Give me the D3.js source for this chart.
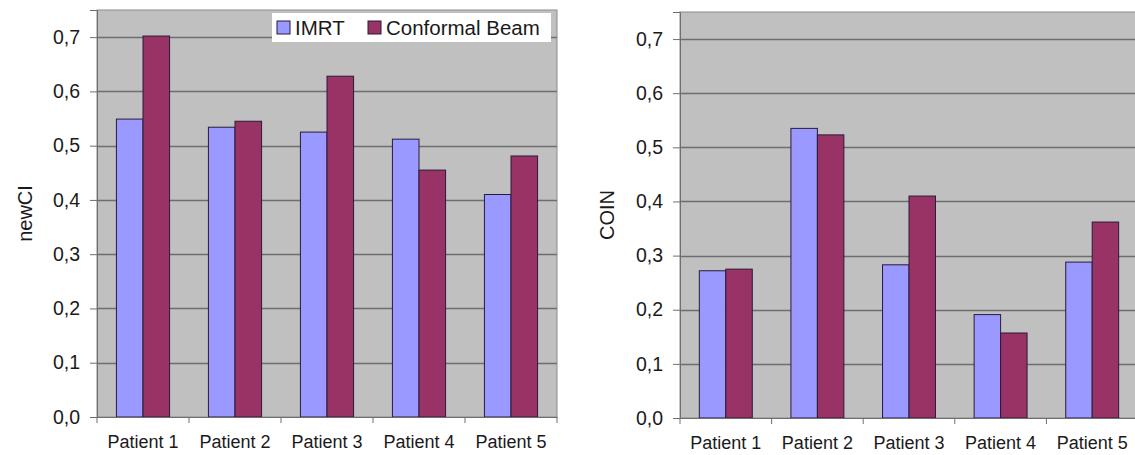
<!DOCTYPE html>
<html>
<head>
<meta charset="utf-8">
<script src="https://cdn.jsdelivr.net/npm/d3@7"></script>
<style>
  html, body { margin: 0; padding: 0; background: #fff; }
  svg { display: block; font-family: "Liberation Sans", Arial, sans-serif; }
</style>
</head>
<body>
<svg id="chart" width="1135" height="455"></svg>
<script>
/* datos */
const patients   = ["Patient 1", "Patient 2", "Patient 3", "Patient 4", "Patient 5"];
const seriesName = ["IMRT", "Conformal Beam"];
const newCI_imrt = [0.549, 0.534, 0.525, 0.512, 0.410];
const newCI_cb   = [0.702, 0.545, 0.628, 0.455, 0.481];
const coin_imrt  = [0.272, 0.535, 0.283, 0.191, 0.288];
const coin_cb    = [0.275, 0.523, 0.410, 0.157, 0.362];
const yTicks     = [0, 0.1, 0.2, 0.3, 0.4, 0.5, 0.6, 0.7];

const colores = ["#9999FF", "#993366"];
const svg = d3.select("#chart");
const fmt = d => d3.format(".1f")(d).replace(".", ",");

/* dibuja un panel de barras agrupadas */
function panel(opt) {
  const { x0, x1, y0, y1, label, labelX, imrt, cb } = opt;

  const x = d3.scaleBand().domain(patients).range([x0, x1]);
  const xs = d3.scaleBand().domain(seriesName)
    .range([0, x.bandwidth()]).paddingInner(0).paddingOuter(0.73);
  const y = d3.scaleLinear().domain([0, 0.75]).range([y1, y0]);

  const g = svg.append("g");

  // fondo gris
  g.append("rect")
    .attr("x", x0).attr("y", y0)
    .attr("width", x1 - x0).attr("height", y1 - y0)
    .attr("fill", "#C0C0C0")
    .attr("stroke", "#8c8c8c").attr("stroke-width", 1);

  // rejilla
  g.append("g").selectAll("line")
    .data(yTicks.slice(1))
    .join("line")
    .attr("x1", x0).attr("x2", x1)
    .attr("y1", d => Math.round(y(d)) + 0.5).attr("y2", d => Math.round(y(d)) + 0.5)
    .attr("stroke", "#6e6e6e").attr("stroke-width", 1.3);

  // barras
  const datos = patients.map((p, i) => ({ p, vals: [imrt[i], cb[i]] }));
  g.append("g").selectAll("g")
    .data(datos)
    .join("g")
    .attr("transform", d => `translate(${x(d.p)},0)`)
    .selectAll("rect")
    .data(d => d.vals.map((v, k) => ({ v, k })))
    .join("rect")
    .attr("x", d => xs(seriesName[d.k]))
    .attr("y", d => y(d.v))
    .attr("width", xs.bandwidth())
    .attr("height", d => y(0) - y(d.v))
    .attr("fill", d => colores[d.k])
    .attr("stroke", "#2a1a3a").attr("stroke-width", 1);

  // eje Y
  const ay = g.append("g")
    .attr("transform", `translate(${x0},0)`)
    .call(d3.axisLeft(y).tickValues(yTicks).tickFormat(fmt).tickSize(7).tickPadding(10));
  ay.select(".domain").attr("stroke", "#6e6e6e");
  ay.selectAll(".tick line").attr("stroke", "#6e6e6e");
  ay.selectAll("text").attr("font-size", 19.5).attr("fill", "#1a1a1a")
    .attr("font-family", "'Liberation Sans', Arial, sans-serif");

  // eje X
  const ax = g.append("g")
    .attr("transform", `translate(0,${y1})`)
    .call(d3.axisBottom(x).tickSize(0).tickPadding(18));
  ax.select(".domain").attr("stroke", "#6e6e6e");
  ax.selectAll("text").attr("font-size", 18).attr("fill", "#1a1a1a")
    .attr("font-family", "'Liberation Sans', Arial, sans-serif");
  // marcas entre categorías
  g.append("g").selectAll("line")
    .data(patients.concat([null]))
    .join("line")
    .attr("x1", (d, i) => i < patients.length ? x(d) : x1)
    .attr("x2", (d, i) => i < patients.length ? x(d) : x1)
    .attr("y1", y1).attr("y2", y1 + 6)
    .attr("stroke", "#6e6e6e");

  // título del eje
  g.append("text")
    .attr("transform", `translate(${labelX},${(y0 + y1) / 2}) rotate(-90)`)
    .attr("text-anchor", "middle")
    .attr("dy", "0.35em")
    .attr("font-size", 20).attr("fill", "#1a1a1a")
    .text(label);
}

panel({ x0: 97,  x1: 557,  y0: 10, y1: 417, label: "newCI", labelX: 25,  imrt: newCI_imrt, cb: newCI_cb });
panel({ x0: 680, x1: 1138, y0: 12, y1: 418, label: "COIN",  labelX: 607, imrt: coin_imrt,  cb: coin_cb });

/* leyenda */
const ley = svg.append("g");
ley.append("rect")
  .attr("x", 272).attr("y", 13).attr("width", 279).attr("height", 29)
  .attr("fill", "#fff");
const items = [{ n: seriesName[0], x: 277 }, { n: seriesName[1], x: 368 }];
items.forEach((it, k) => {
  ley.append("rect")
    .attr("x", it.x).attr("y", 21).attr("width", 13).attr("height", 13)
    .attr("fill", colores[k]).attr("stroke", "#2a1a3a").attr("stroke-width", 1);
  ley.append("text")
    .attr("x", it.x + 18).attr("y", 28)
    .attr("dy", "0.35em")
    .attr("font-size", 20.5).attr("fill", "#1a1a1a")
    .text(it.n);
});
</script>
</body>
</html>
